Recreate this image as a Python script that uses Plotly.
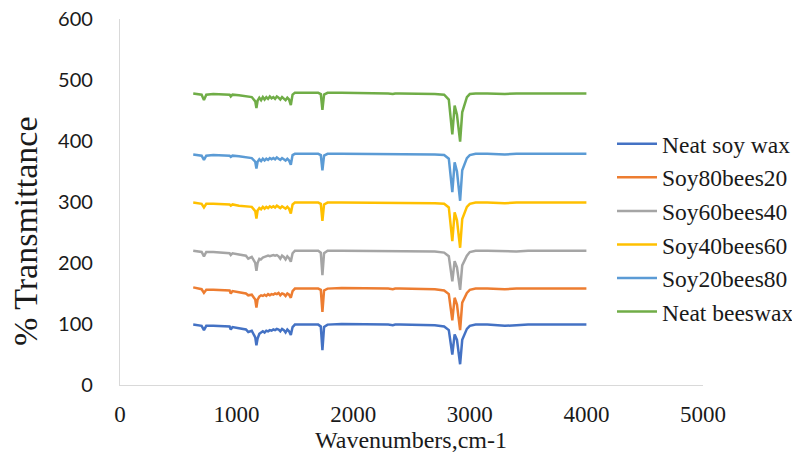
import plotly.graph_objects as go

wavenumbers = [628, 680, 700, 720, 740, 800, 880, 940, 950, 965,
               1020, 1080, 1100, 1130, 1160, 1170, 1180, 1195, 1210, 1225,
               1240, 1255, 1270, 1285, 1300, 1315, 1330, 1345, 1360, 1375,
               1390, 1405, 1420, 1435, 1450, 1465, 1480, 1500, 1600, 1700,
               1722, 1736, 1750, 1780, 1900, 2000, 2100, 2200, 2300, 2340,
               2360, 2400, 2500, 2600, 2700, 2780, 2820, 2850, 2870, 2890,
               2917, 2935, 2955, 2975, 3000, 3050, 3150, 3300, 3400, 3500,
               3700, 3900, 4000]

neat_soy_wax = [99, 98, 97, 90, 97, 97, 96, 96, 91, 95,
                93, 91, 87, 89, 78, 65, 76, 84, 86, 88,
                86, 89, 88, 90, 89, 91, 90, 92, 91, 88,
                92, 90, 86, 91, 88, 82, 95, 99, 99, 99,
                96, 57, 95, 99, 100, 100, 100, 99, 99, 98,
                99, 99, 99, 99, 98, 96, 90, 50, 83, 74,
                34, 74, 82, 92, 97, 99, 99, 97, 98, 99,
                99, 99, 99]

soy80bees20 = [160, 158, 157, 151, 156, 156, 155, 155, 150, 154,
               152, 150, 147, 148, 140, 127, 140, 145, 147, 146,
               148, 146, 149, 147, 149, 148, 150, 149, 151, 147,
               150, 149, 146, 150, 148, 143, 154, 158, 158, 158,
               156, 120, 155, 158, 159, 159, 158, 158, 158, 157,
               158, 158, 158, 158, 157, 155, 149, 106, 143, 132,
               90, 135, 142, 151, 156, 158, 158, 157, 158, 158,
               158, 158, 158]

soy60bees40 = [220, 219, 218, 211, 218, 218, 217, 216, 213, 216,
               214, 212, 207, 210, 200, 187, 200, 207, 206, 209,
               210, 211, 212, 211, 212, 213, 212, 213, 211, 207,
               212, 210, 206, 211, 208, 202, 216, 220, 220, 220,
               217, 180, 216, 220, 220, 220, 220, 220, 220, 219,
               220, 220, 220, 220, 219, 217, 211, 170, 203, 193,
               156, 196, 203, 212, 218, 220, 220, 219, 219, 220,
               220, 220, 220]

soy40bees60 = [299, 298, 297, 291, 297, 297, 296, 296, 294, 296,
               294, 293, 292, 292, 285, 273, 286, 290, 288, 292,
               289, 292, 290, 293, 291, 293, 291, 294, 292, 290,
               293, 291, 289, 292, 289, 281, 296, 299, 299, 299,
               297, 269, 296, 299, 299, 299, 299, 299, 299, 298,
               299, 299, 299, 299, 298, 297, 291, 236, 283, 270,
               225, 272, 282, 292, 297, 299, 299, 298, 299, 299,
               299, 299, 299]

soy20bees80 = [378, 377, 376, 369, 376, 377, 376, 376, 374, 376,
               375, 374, 373, 372, 366, 355, 366, 370, 367, 371,
               368, 371, 369, 372, 370, 372, 370, 373, 371, 369,
               372, 370, 368, 371, 368, 361, 377, 379, 379, 379,
               377, 352, 376, 379, 379, 379, 379, 379, 379, 378,
               379, 379, 379, 379, 378, 377, 371, 316, 365, 350,
               302, 352, 362, 372, 377, 379, 379, 378, 379, 379,
               379, 379, 379]

neat_beeswax = [478, 477, 476, 467, 476, 477, 476, 476, 473, 476,
                475, 474, 473, 472, 465, 454, 466, 471, 467, 472,
                468, 472, 469, 473, 470, 472, 469, 473, 471, 468,
                472, 470, 467, 471, 468, 459, 476, 479, 479, 479,
                477, 451, 476, 479, 479, 479, 479, 478, 478, 477,
                478, 478, 478, 478, 477, 476, 468, 411, 458, 443,
                399, 447, 459, 472, 477, 478, 478, 477, 478, 478,
                478, 478, 478]

series_names = ["Neat soy wax", "Soy80bees20", "Soy60bees40",
                "Soy40bees60", "Soy20bees80", "Neat beeswax"]
series_values = [neat_soy_wax, soy80bees20, soy60bees40,
                 soy40bees60, soy20bees80, neat_beeswax]
series_colors = ["#4472C4", "#ED7D31", "#A5A5A5",
                 "#FFC000", "#5B9BD5", "#70AD47"]

x_ticks = [0, 1000, 2000, 3000, 4000, 5000]
y_ticks = [0, 100, 200, 300, 400, 500, 600]

fig = go.Figure()
for name, vals, col in zip(series_names, series_values, series_colors):
    fig.add_trace(go.Scatter(x=wavenumbers, y=vals, mode="lines", name=name,
                             line=dict(color=col, width=2.5)))

L, R, T, B = 120, 89, 19, 75
W, H = 792, 460
pw = W - L - R
ph = H - T - B

fig.update_layout(
    width=W, height=H,
    margin=dict(l=L, r=R, t=T, b=B, pad=0, autoexpand=False),
    paper_bgcolor="white", plot_bgcolor="white",
    showlegend=True,
    legend=dict(
        x=(612 - L) / pw, xanchor="left",
        y=(H - B - 122) / ph, yanchor="top",
        font=dict(family="Liberation Serif", size=23.5, color="#1a1a1a"),
        bgcolor="rgba(0,0,0,0)", borderwidth=0,
        itemwidth=40, tracegroupgap=0,
    ),
    xaxis=dict(
        range=[0, 5000], tickvals=x_ticks, ticktext=[str(v) for v in x_ticks],
        showgrid=False, zeroline=False, automargin=False,
        showline=True, linecolor="#d9d9d9", linewidth=1.25,
        ticks="", ticklabelstandoff=8,
        tickfont=dict(family="Liberation Serif", size=23, color="#1a1a1a"),
    ),
    yaxis=dict(
        range=[0, 600], tickvals=y_ticks, ticktext=[str(v) for v in y_ticks],
        showgrid=False, zeroline=False, automargin=False,
        showline=True, linecolor="#d9d9d9", linewidth=1.25,
        ticks="", ticklabelstandoff=22,
        tickfont=dict(family="Lato", size=20, color="#1a1a1a"),
    ),
    annotations=[
        dict(text="% Transmittance", xref="paper", yref="paper",
             x=(25 - L) / pw, y=(H - B - 232) / ph,
             xanchor="center", yanchor="middle", textangle=-90,
             showarrow=False,
             font=dict(family="Liberation Serif", size=34, color="#1a1a1a")),
        dict(text="Wavenumbers,cm-1", xref="paper", yref="paper",
             x=(411 - L) / pw, y=(H - B - 440) / ph,
             xanchor="center", yanchor="middle", showarrow=False,
             font=dict(family="Liberation Serif", size=24, color="#1a1a1a")),
    ],
)

fig.write_html("out.html",
               config={"displayModeBar": False},
               post_script="document.body.style.margin='0';document.body.style.padding='0';")
